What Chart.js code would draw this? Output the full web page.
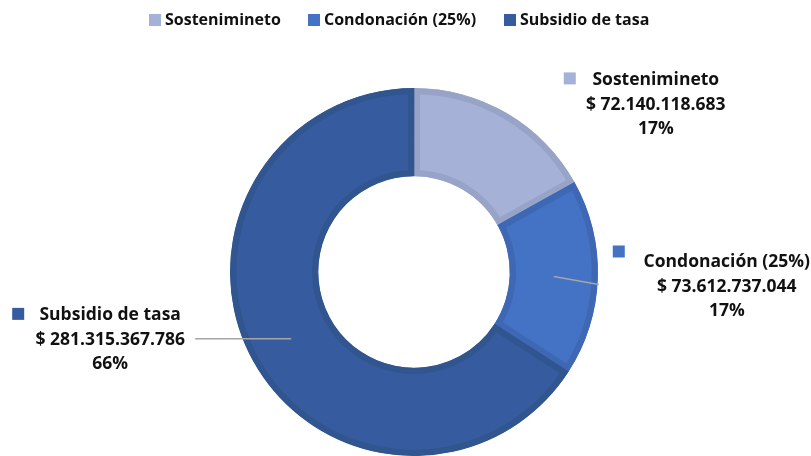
<!DOCTYPE html>
<html lang="es">
<head>
<meta charset="UTF-8" />
<title>Distribución</title>
<style>
  body { margin: 0; background: #fff; }
  #wrap { width: 811px; height: 456px; }
</style>
</head>
<body>
<div id="wrap"><canvas id="donut" width="811" height="456"></canvas></div>

<script src="https://cdn.jsdelivr.net/npm/chart.js"></script>
<script>
  // data
  const categories = ['Sostenimineto', 'Condonación (25%)', 'Subsidio de tasa'];
  const amounts = [72140118683, 73612737044, 281315367786];
  const amountLabels = ['$ 72.140.118.683', '$ 73.612.737.044', '$ 281.315.367.786'];
  const percentLabels = ['17%', '17%', '66%'];

  const fills = ['#a5b1d7', '#4472c4', '#365c9f'];
  const borders = ['#97a4c8', '#3e68b4', '#31558f'];

  const LEGEND_FONT = 'bold 16px "Open Sans", Lato, sans-serif';
  const LABEL_FONT = 'bold 17.5px "Open Sans", Lato, sans-serif';

  // where each data label sits, relative to the slice midpoint (tooltipPosition)
  const labelPlace = [
    { dx: 171, dy: -71, line: null, boxX: -86, boxY: -2 },
    { dx: 173, dy: -14, line: [45, 8], boxX: -108, boxY: -11 },
    { dx: -181, dy: -24, line: [-96, 0], boxX: -92, boxY: -1 }
  ];

  const labelPlugin = {
    id: 'labels',
    afterDraw(chart) {
      const ctx = chart.ctx;
      const meta = chart.getDatasetMeta(0);
      ctx.save();
      ctx.font = LABEL_FONT;
      ctx.textAlign = 'center';
      ctx.textBaseline = 'middle';

      meta.data.forEach((arc, i) => {
        const p = arc.tooltipPosition();
        const pl = labelPlace[i];
        const cx = p.x + pl.dx;
        const cy = p.y + pl.dy;
        if (pl.line) {
          ctx.strokeStyle = '#a6a6a6';
          ctx.lineWidth = 1.5;
          ctx.beginPath();
          ctx.moveTo(p.x, p.y);
          ctx.lineTo(p.x + pl.line[0], p.y + pl.line[1]);
          ctx.stroke();
        }
        ctx.fillStyle = fills[i];
        ctx.fillRect(cx + pl.boxX - 6, cy + pl.boxY - 6, 12, 12);
        ctx.fillStyle = '#111';
        ctx.fillText(categories[i], cx, cy);
        ctx.fillText(amountLabels[i], cx, cy + 25);
        ctx.fillText(percentLabels[i], cx, cy + 49);
      });

      // legend row at the top
      const legendX = [149, 308, 504];
      ctx.font = LEGEND_FONT;
      ctx.textAlign = 'left';
      categories.forEach((c, i) => {
        ctx.fillStyle = fills[i];
        ctx.fillRect(legendX[i], 14, 12, 12);
        ctx.fillStyle = '#111';
        ctx.fillText(c, legendX[i] + 16, 20);
      });
      ctx.restore();
    }
  };

  new Chart(document.getElementById('donut'), {
    type: 'doughnut',
    data: {
      labels: categories,
      datasets: [{
        data: amounts,
        backgroundColor: fills,
        borderColor: borders,
        borderWidth: 6,
        borderAlign: 'inner'
      }]
    },
    options: {
      responsive: false,
      animation: false,
      cutout: '52%',
      layout: { padding: { top: 88, bottom: 0, left: 230, right: 213 } },
      plugins: {
        legend: { display: false },
        tooltip: { enabled: false }
      }
    },
    plugins: [labelPlugin]
  });
</script>
</body>
</html>
